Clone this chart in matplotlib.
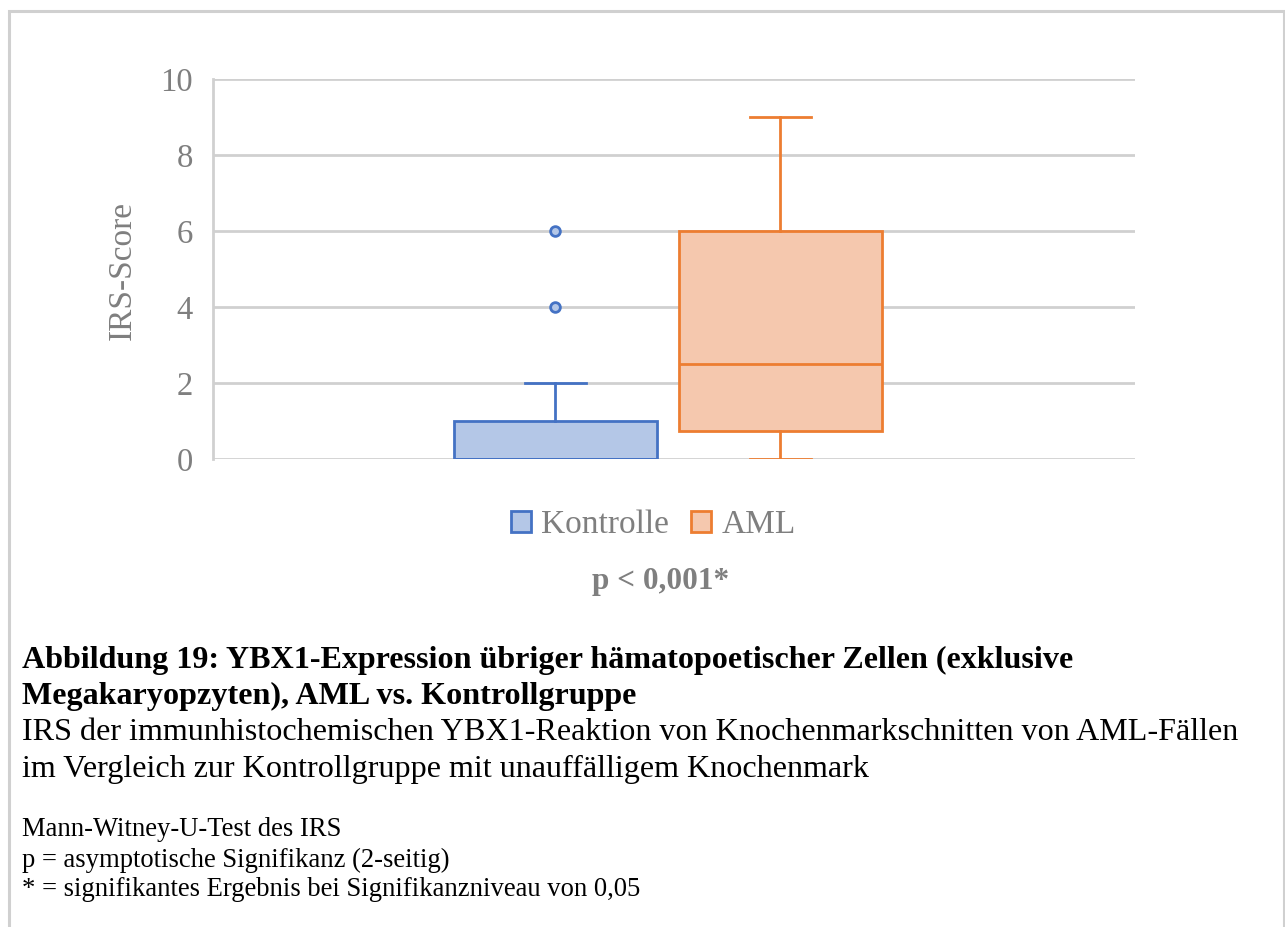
import matplotlib
matplotlib.use("Agg")
import matplotlib.pyplot as plt
from matplotlib.patches import Rectangle, Patch

plt.rcParams['font.family'] = ['Liberation Serif', 'DejaVu Serif']

# Box statistics for the IRS score
groups = ["Kontrolle", "AML"]
whisker_low = [0, 0]
q1 = [0, 0.75]
median = [0, 2.5]
q3 = [1, 6]
whisker_high = [2, 9]
outliers = [[4, 6], []]

face_colors = ["#B4C7E7", "#F5C8AE"]
edge_colors = ["#4472C4", "#ED7D31"]

y_ticks = [0, 2, 4, 6, 8, 10]

W, H = 1285, 927
fig = plt.figure(figsize=(W / 100, H / 100), dpi=100)

# outer frame (open at the bottom)
fig.patches.append(Rectangle((8.5 / W, -0.01), (1284 - 8.5) / W, 1 - 11 / H + 0.01,
                             transform=fig.transFigure, fill=False,
                             edgecolor="#D0D0D0", linewidth=2.2, zorder=0))

ax_l, ax_r = 212.5, 1135
ax_t, ax_b = 79, 459
ax = fig.add_axes([ax_l / W, 1 - ax_b / H, (ax_r - ax_l) / W, (ax_b - ax_t) / H])

positions = [(555 - ax_l) / (ax_r - ax_l), (780 - ax_l) / (ax_r - ax_l)]
box_w = 203 / (ax_r - ax_l)
cap_w = 61 / (ax_r - ax_l)

for i, g in enumerate(groups):
    stats = [dict(label=g, whislo=whisker_low[i], q1=q1[i], med=median[i],
                  q3=q3[i], whishi=whisker_high[i], fliers=outliers[i])]
    ec = edge_colors[i]
    ax.bxp(stats, positions=[positions[i]], widths=box_w, patch_artist=True,
           showfliers=True, capwidths=cap_w,
           boxprops=dict(facecolor=face_colors[i], edgecolor=ec, linewidth=2),
           medianprops=dict(color=ec, linewidth=2),
           whiskerprops=dict(color=ec, linewidth=2),
           capprops=dict(color=ec, linewidth=2),
           flierprops=dict(marker="o", markersize=7, markerfacecolor=face_colors[i],
                           markeredgecolor=ec, markeredgewidth=2),
           zorder=3)

ax.set_xlim(0, 1)
ax.set_ylim(0, 10)
ax.set_yticks(y_ticks)
ax.set_yticklabels([str(t) for t in y_ticks])
ax.set_xticks([])
ax.tick_params(axis="y", length=0, pad=14, labelsize=23.5, labelcolor="#7F7F7F")
ax.grid(axis="y", color="#D0D0D0", linewidth=2, zorder=0)
ax.set_axisbelow(True)
for s in ["top", "right", "bottom"]:
    ax.spines[s].set_visible(False)
ax.spines["left"].set_color("#D0D0D0")
ax.spines["left"].set_linewidth(2)

fig.text(122 / W, 1 - 270 / H, "IRS-Score", rotation=90, ha="center", va="center",
         fontsize=24, color="#7F7F7F")

# legend
handles = [Patch(facecolor=face_colors[i], edgecolor=edge_colors[i], linewidth=2, label=g)
           for i, g in enumerate(groups)]
fig.legend(handles=handles, loc="center", bbox_to_anchor=(653.5 / W, 1 - 525 / H),
           ncol=2, frameon=False, fontsize=24, labelcolor="#7F7F7F",
           handlelength=0.6, handleheight=0.6, handletextpad=0.3, columnspacing=0.66)

fig.text(661 / W, 1 - 582 / H, "p < 0,001*", ha="center", va="center",
         fontsize=22.5, fontweight="bold", color="#7F7F7F")

# caption
x0 = 22 / W
fig.text(x0, 1 - 660 / H, "Abbildung 19: YBX1-Expression übriger hämatopoetischer Zellen (exklusive",
         fontsize=23.1, fontweight="bold", va="center", color="black")
fig.text(x0, 1 - 696 / H, "Megakaryopzyten), AML vs. Kontrollgruppe",
         fontsize=23.1, fontweight="bold", va="center", color="black")
fig.text(x0, 1 - 733 / H, "IRS der immunhistochemischen YBX1-Reaktion von Knochenmarkschnitten von AML-Fällen",
         fontsize=23.1, va="center", color="black")
fig.text(x0, 1 - 769 / H, "im Vergleich zur Kontrollgruppe mit unauffälligem Knochenmark",
         fontsize=23.1, va="center", color="black")
fig.text(x0, 1 - 830 / H, "Mann-Witney-U-Test des IRS", fontsize=19.2, va="center", color="black")
fig.text(x0, 1 - 860 / H, "p = asymptotische Signifikanz (2-seitig)", fontsize=19.2, va="center", color="black")
fig.text(x0, 1 - 889 / H, "* = signifikantes Ergebnis bei Signifikanzniveau von 0,05", fontsize=19.2,
         va="center", color="black")

fig.savefig("out.png", dpi=100, facecolor="white")
